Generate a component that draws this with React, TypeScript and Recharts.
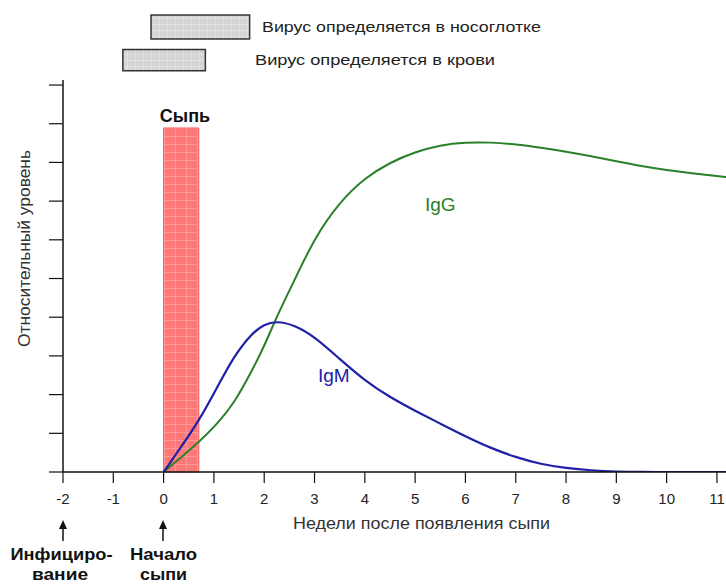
import { ComposedChart, Line, XAxis, YAxis, ReferenceArea } from "recharts";

// weeks after rash onset
const weeks = [0, 0.35, 0.7, 1.05, 1.4, 1.75, 2, 2.25, 2.6, 3, 3.5, 4, 4.5, 5, 5.5, 6, 6.5, 7, 7.5, 8, 8.5, 9, 9.5, 10, 10.5, 11, 11.2];
const igm = [0, 0.65, 1.32, 2.15, 3.0, 3.58, 3.82, 3.9, 3.8, 3.5, 2.92, 2.36, 1.93, 1.58, 1.25, 0.92, 0.62, 0.38, 0.2, 0.1, 0.04, 0.01, 0, 0, 0, 0, 0];
const igg = [0, 0.38, 0.77, 1.22, 1.77, 2.6, 3.25, 4.02, 4.95, 6.05, 6.98, 7.6, 8.0, 8.27, 8.45, 8.52, 8.52, 8.47, 8.38, 8.28, 8.16, 8.03, 7.9, 7.8, 7.72, 7.65, 7.62];

const xTicks = [-2, -1, 0, 1, 2, 3, 4, 5, 6, 7, 8, 9, 10, 11];
const yTicks = [0, 1, 2, 3, 4, 5, 6, 7, 8, 9, 10];

// periods (weeks): rash, virus in nasopharynx, virus in blood
const rash = [0, 0.7];
const virusNose = [-0.25, 1.71];
const virusBlood = [-0.81, 0.83];

const rows = weeks.map((w, i) => ({ week: w, igm: igm[i], igg: igg[i] }));

const font = '"Liberation Sans", Arial, sans-serif';

export default function App() {
  return (
    <div style={{ position: "absolute", left: 0, top: 0, width: 726, height: 584, background: "#fff", fontFamily: font }}>
      <ComposedChart width={726} height={584} data={rows} margin={{ top: 80, right: 0, bottom: 82, left: 43 }}>
        <defs>
          <pattern id="rashGrid" width="11" height="8" patternUnits="userSpaceOnUse">
            <rect width="11" height="8" fill="#ff7878" />
            <path d="M0 0.5H11M10.5 0V8" stroke="#ffb4b4" strokeWidth="1" opacity="0.55" />
          </pattern>
          <pattern id="virusGrid" width="8" height="6" patternUnits="userSpaceOnUse">
            <rect width="8" height="6" fill="#d4d4d4" />
            <path d="M0 0.5H8M7.5 0V6" stroke="#e2e2e2" strokeWidth="1" />
          </pattern>
        </defs>
        <XAxis
          dataKey="week"
          type="number"
          domain={[-2, 11.18]}
          ticks={xTicks}
          interval={0}
          allowDataOverflow
          height={30}
          tickSize={11}
          tickMargin={10}
          axisLine={{ stroke: "#111", strokeWidth: 1.5 }}
          tickLine={{ stroke: "#111", strokeWidth: 1.2 }}
          tick={{ fill: "#222", fontSize: 15, fontFamily: font }}
        />
        <YAxis
          type="number"
          domain={[0, 10.13]}
          ticks={yTicks}
          interval={0}
          allowDataOverflow
          width={20}
          tickSize={14}
          tickFormatter={() => ""}
          axisLine={{ stroke: "#111", strokeWidth: 1.5 }}
          tickLine={{ stroke: "#111", strokeWidth: 1.2 }}
        />
        <ReferenceArea x1={virusNose[0]} x2={virusNose[1]} y1={11.19} y2={11.81} ifOverflow="visible" fill="url(#virusGrid)" fillOpacity={1} stroke="#333" strokeWidth={1.5} />
        <ReferenceArea x1={virusBlood[0]} x2={virusBlood[1]} y1={10.37} y2={10.92} ifOverflow="visible" fill="url(#virusGrid)" fillOpacity={1} stroke="#333" strokeWidth={1.5} />
        <ReferenceArea x1={rash[0]} x2={rash[1]} y1={0} y2={8.89} ifOverflow="visible" fill="url(#rashGrid)" fillOpacity={1} stroke="#f06060" strokeWidth={1} />
        <Line type="basis" dataKey="igg" stroke="#2a802a" strokeWidth={2} dot={false} isAnimationActive={false} />
        <Line type="basis" dataKey="igm" stroke="#2020a8" strokeWidth={2.2} dot={false} isAnimationActive={false} />
      </ComposedChart>
      <svg width={726} height={584} style={{ position: "absolute", left: 0, top: 0, pointerEvents: "none" }} fontFamily={font}>
        <text x={262} y={31.5} fontSize={15} fill="#222" textLength={279} lengthAdjust="spacingAndGlyphs">Вирус определяется в носоглотке</text>
        <text x={255} y={64.5} fontSize={15} fill="#222" textLength={240} lengthAdjust="spacingAndGlyphs">Вирус определяется в крови</text>
        <text x={185} y={121.5} fontSize={18} fontWeight="bold" fill="#111" textAnchor="middle">Сыпь</text>
        <text x={425} y={210.5} fontSize={19} fill="#2a802a">IgG</text>
        <text x={318} y={381.5} fontSize={19} fill="#2020a8">IgM</text>
        <text x={30} y={248.5} fontSize={16} fill="#333" textAnchor="middle" transform="rotate(-90 30 248.5)" textLength={197} lengthAdjust="spacingAndGlyphs">Относительный уровень</text>
        <text x={293} y={529} fontSize={16} fill="#333" textLength={257} lengthAdjust="spacingAndGlyphs">Недели после появления сыпи</text>
        <line x1={63} y1={528} x2={63} y2={541} stroke="#111" strokeWidth={1.5} />
        <polygon points="59,529 67,529 63,520" fill="#111" />
        <line x1={163} y1={528} x2={163} y2={541} stroke="#111" strokeWidth={1.5} />
        <polygon points="159,529 167,529 163,520" fill="#111" />
        <text x={61.5} y={560} fontSize={16} fontWeight="bold" fill="#111" textAnchor="middle" textLength={102} lengthAdjust="spacingAndGlyphs">Инфициро-</text>
        <text x={60} y={580} fontSize={16} fontWeight="bold" fill="#111" textAnchor="middle" textLength={56} lengthAdjust="spacingAndGlyphs">вание</text>
        <text x={163.5} y={560} fontSize={16} fontWeight="bold" fill="#111" textAnchor="middle" textLength={67} lengthAdjust="spacingAndGlyphs">Начало</text>
        <text x={163.5} y={580} fontSize={16} fontWeight="bold" fill="#111" textAnchor="middle" textLength={47} lengthAdjust="spacingAndGlyphs">сыпи</text>
      </svg>
    </div>
  );
}
